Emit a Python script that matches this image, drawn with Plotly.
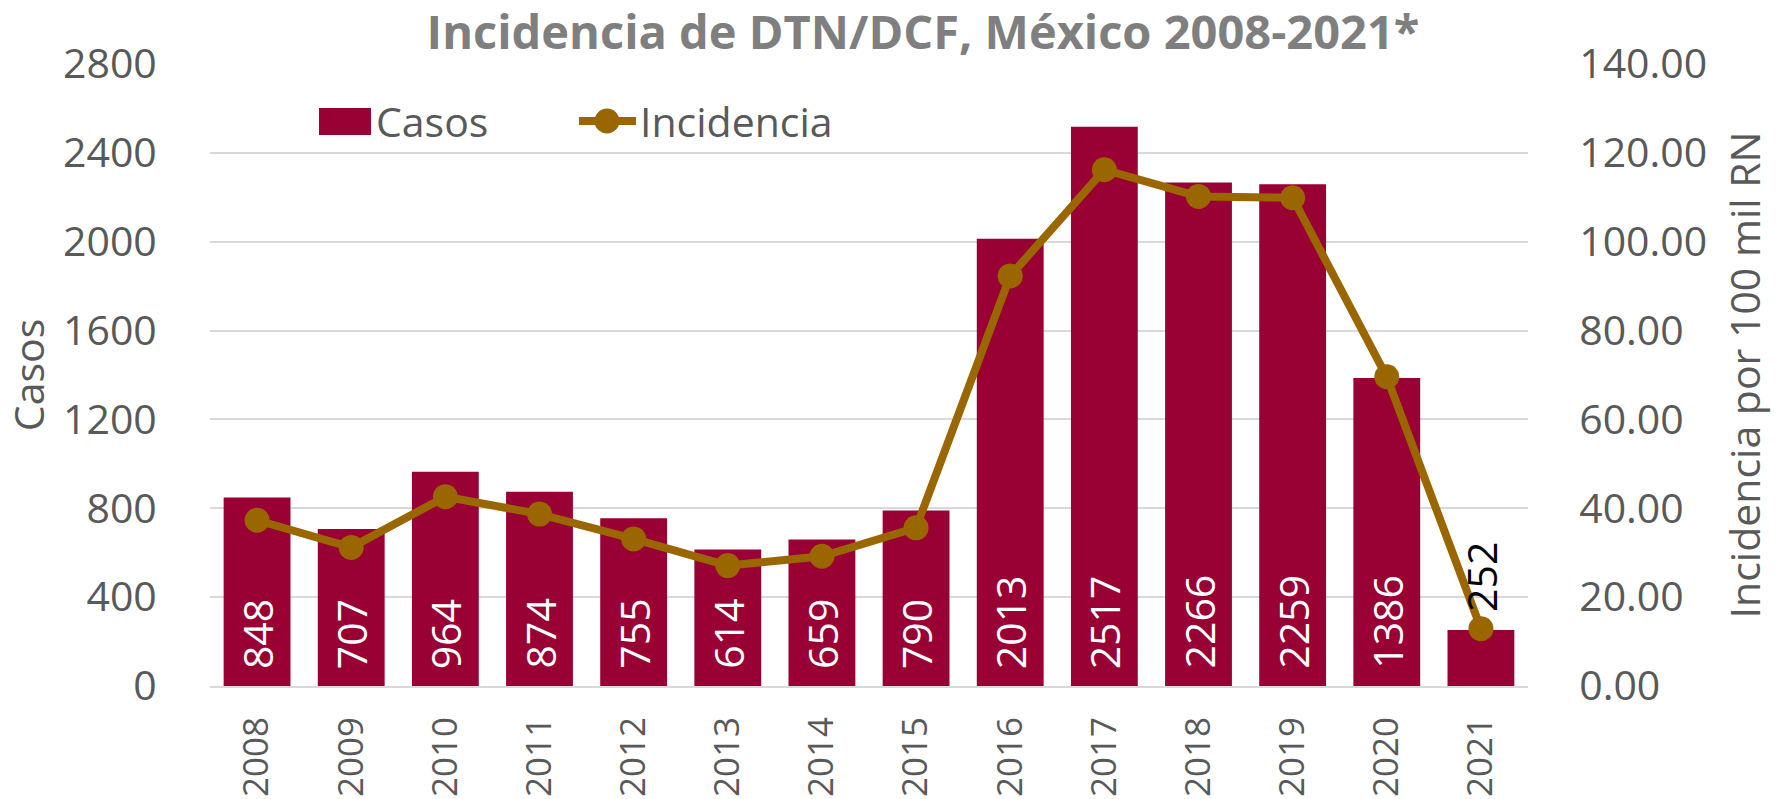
import plotly.graph_objects as go

# ---- data ----
years = ['2008', '2009', '2010', '2011', '2012', '2013', '2014',
         '2015', '2016', '2017', '2018', '2019', '2020', '2021']
casos = [848, 707, 964, 874, 755, 614, 659, 790, 2013, 2517, 2266, 2259, 1386, 252]
incidencia = [37.3, 31.2, 42.6, 38.7, 33.1, 27.1, 29.2, 35.6, 92.3, 116.2, 110.2, 109.9, 69.6, 12.9]
left_ticks = [0, 400, 800, 1200, 1600, 2000, 2400, 2800]
right_ticks = [0, 20, 40, 60, 80, 100, 120, 140]
right_labels = [f"{v:.2f}" for v in right_ticks]

title_text = "Incidencia de DTN/DCF, México 2008-2021*"
series_names = ["Casos", "Incidencia"]
left_title = "Casos"
right_title = "Incidencia por 100 mil RN"

# ---- style ----
BAR = "#990033"
LINE = "#996600"
TXT = "#595959"
GRID = "#D9D9D9"
FONT = "Open Sans"
FS = 41

W, H = 1780, 799
L, R, T, B = 210, 252, 64, 113

fig = go.Figure()
fig.add_trace(go.Bar(
    x=years, y=casos, name=series_names[0], marker=dict(color=BAR, line=dict(width=0)),
    yaxis="y", showlegend=False, hoverinfo="x+y"))
fig.add_trace(go.Scatter(
    x=years, y=incidencia, name=series_names[1], yaxis="y2", mode="lines+markers",
    line=dict(color=LINE, width=8), marker=dict(color=LINE, size=25),
    showlegend=False))

# bar value labels (x given as category index)
annotations = []
for i, v in enumerate(casos):
    inside = v >= 400
    annotations.append(dict(
        x=i, y=0 if inside else v, xref="x", yref="y", text=str(v),
        showarrow=False, textangle=-90, yanchor="bottom", xanchor="center",
        yshift=15 if inside else 16,
        font=dict(family=FONT, size=FS, color="white" if inside else "black")))

# legend (drawn in paper space)
pw, ph = W - L - R, H - T - B
def px(xp):
    return (xp - L) / pw
def py(yp):
    return (H - B - yp) / ph

shapes = [
    dict(type="rect", xref="paper", yref="paper",
         x0=px(319), x1=px(371), y0=py(135), y1=py(108),
         fillcolor=BAR, line=dict(width=0)),
    dict(type="line", xref="paper", yref="paper",
         x0=px(579), x1=px(636), y0=py(121), y1=py(121),
         line=dict(color=LINE, width=8)),
    dict(type="circle", xref="paper", yref="paper",
         x0=px(607 - 12.5), x1=px(607 + 12.5), y0=py(121 + 12.5), y1=py(121 - 12.5),
         fillcolor=LINE, line=dict(width=0)),
]
annotations.append(dict(x=px(374), y=py(121), xref="paper", yref="paper",
                        text=series_names[0], showarrow=False, xanchor="left", yanchor="middle",
                        font=dict(family=FONT, size=FS, color=TXT)))
annotations.append(dict(x=px(638), y=py(121), xref="paper", yref="paper",
                        text=series_names[1], showarrow=False, xanchor="left", yanchor="middle",
                        font=dict(family=FONT, size=FS, color=TXT)))

fig.update_layout(
    template="none",
    width=W, height=H, margin=dict(l=L, r=R, t=T, b=B, pad=0),
    paper_bgcolor="white", plot_bgcolor="white",
    font=dict(family=FONT, size=FS, color=TXT),
    title=dict(text=f"<b>{title_text}</b>", x=923 / W, xanchor="center",
               y=1 - 33 / H, yanchor="middle", yref="container",
               font=dict(family=FONT, size=47, color="#7F7F7F")),
    bargap=0.29,
    showlegend=False,
    xaxis=dict(type="category", categoryorder="array", categoryarray=years,
               range=[-0.5, len(years) - 0.5], automargin=False,
               tickangle=-90, showgrid=False,
               showline=True, linecolor=GRID, linewidth=2, zeroline=False,
               ticks="outside", ticklen=15, tickcolor="rgba(0,0,0,0)",
               tickfont=dict(family=FONT, size=35, color=TXT), fixedrange=True),
    yaxis=dict(range=[0, 2800], tickvals=left_ticks, ticktext=[str(v) for v in left_ticks],
               automargin=False,
               showgrid=True, gridcolor=GRID, gridwidth=2, zeroline=False,
               showline=False, ticks="outside", ticklen=44, tickcolor="rgba(0,0,0,0)",
               tickfont=dict(family=FONT, size=FS, color=TXT),
               title=dict(text=left_title, standoff=16,
                          font=dict(family=FONT, size=FS, color=TXT))),
    yaxis2=dict(range=[0, 140], tickvals=right_ticks, ticktext=right_labels,
                automargin=False,
                overlaying="y", side="right", showgrid=False, zeroline=False,
                showline=False, ticks="outside", ticklen=42, tickcolor="rgba(0,0,0,0)",
                tickfont=dict(family=FONT, size=FS, color=TXT),
                title=dict(text=right_title, standoff=25,
                           font=dict(family=FONT, size=FS, color=TXT))),
    shapes=shapes,
    annotations=annotations,
)

fig.write_html("out.html", include_plotlyjs=True,
               config={"displayModeBar": False},
               post_script="document.body.style.margin='0';document.body.style.padding='0';")
